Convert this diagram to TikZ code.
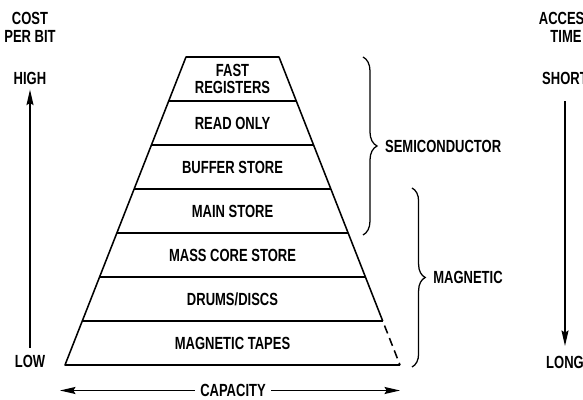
\documentclass[tikz,border=0pt]{standalone}
\usepackage{fontspec}
\setmainfont{Liberation Sans}[FakeStretch=0.74]
\usepackage{tikz}
\usetikzlibrary{arrows.meta,calc,decorations.pathreplacing}

\begin{document}
\begin{tikzpicture}[x=0.25cm, y=0.25cm, line width=1.1pt, >={Stealth[length=11pt,width=5pt,inset=1.5pt]},
    lbl/.style={font=\fontsize{12.5}{12.5}\selectfont\bfseries, align=center},
    bracket/.style={decorate, decoration={brace, amplitude=0.35cm}, line width=0.9pt}]
    \useasboundingbox (0,0) rectangle (58.3,40);
    % Pyramid
    \coordinate (tl) at (18.6,34.3);
    \coordinate (tr) at (27.9,34.3);
    \coordinate (bl) at (6.5,3.5);
    \coordinate (br) at (40.0,3.5);
    \coordinate (dsh) at ($(tr)!6/7!(br)$);
    \draw[line join=round] (dsh) -- (tr) -- (tl) -- (bl) -- (br);
    \draw[dash pattern=on 6pt off 3.5pt, dash phase=6pt] (dsh) -- (br);
    \foreach \k in {1,...,6}
        \draw ($(tl)!\k/7!(bl)$) -- ($(tr)!\k/7!(br)$);
    \foreach \txt [count=\k from 0] in {{FAST\\REGISTERS}, READ ONLY, BUFFER STORE, MAIN STORE, MASS CORE STORE, DRUMS/DISCS, MAGNETIC TAPES}
        \node[lbl] (layer\k) at (23.25, 32.1-4.4*\k) {\txt};
    % Technology groups
    \draw[bracket] (36.3,34.3) -- (36.3,16.5) node[lbl, midway, right=0.42cm] (semi) {SEMICONDUCTOR};
    \draw[bracket, decoration={brace, amplitude=0.33cm}] (41.2,21.2) -- (41.2,3.3) node[lbl, midway, right=0.4cm] (mag) {MAGNETIC};
    % Cost per bit
    \node[lbl] (costhd) at (3.0,37.25) {COST\\PER BIT};
    \node[lbl] (high) at (3.0,32.2) {HIGH};
    \node[lbl] (low) at (3.0,3.9) {LOW};
    \draw[->, line width=0.9pt, shorten <=1pt] (low) -- (high);
    % Access time
    \node[lbl] (accesshd) at (56.6,37.25) {ACCESS\\TIME};
    \node[lbl] (short) at (56.5,32.2) {SHORT};
    \node[lbl] (long) at (56.5,3.8) {LONG};
    \draw[->, line width=0.9pt, shorten <=0.29cm, shorten >=0.11cm] (short) -- (long);
    % Capacity
    \node[lbl] (cap) at (23.3,0.95) {CAPACITY};
    \coordinate (capl) at (6.0,0.95);
    \coordinate (capr) at (40.0,0.95);
    \draw[->, line width=0.9pt] (cap) -- (capl);
    \draw[->, line width=0.9pt] (cap) -- (capr);
\end{tikzpicture}
\end{document}
